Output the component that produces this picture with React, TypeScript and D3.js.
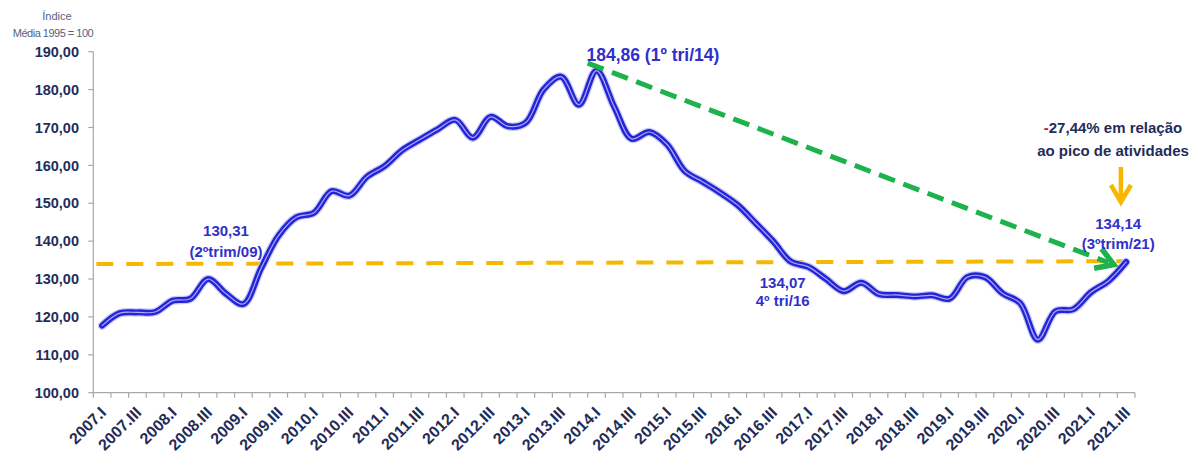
import React from "react";
import * as d3 from "d3";

const years = d3.range(2007, 2022);
const romans = ["I", "II", "III", "IV"];
const quarters: string[] = [];
years.forEach((y) => romans.forEach((r) => quarters.push(`${y}.${r}`)));
const categories = quarters.slice(0, 59); // 2007.I .. 2021.III

const values = [
  117.7, 121.0, 121.2, 121.3, 124.3, 124.8, 130.0, 126.2, 123.4, 132.8,
  141.5, 146.3, 147.5, 153.2, 152.0, 157.0, 159.8, 164.0, 166.8, 169.5,
  172.0, 167.3, 172.8, 170.3, 171.3, 180.0, 183.4, 176.0, 185.0, 175.5,
  167.0, 168.8, 165.5, 158.5, 155.7, 152.8, 149.5, 144.8, 140.0, 134.6,
  133.2, 130.0, 126.8, 129.0, 126.0, 125.8, 125.4, 125.7, 124.8, 130.5,
  130.5, 126.2, 123.6, 114.0, 121.5, 122.0, 126.5, 129.5, 134.5,
];

const yTicks = [100, 110, 120, 130, 140, 150, 160, 170, 180, 190];

const annotations = [
  { idx: 9, lines: ["130,31", "(2ºtrim/09)"], dx: -35, y: [236, 257], size: 15 },
  { idx: 39, lines: ["134,07", "4º tri/16"], dx: -8, y: [288, 306], size: 15 },
  { idx: 58, lines: ["134,14", "(3ºtrim/21)"], dx: -8, y: [229, 249], size: 15 },
];

const W = 1198;
const H = 465;
const left = 93.3;
const right = 1135;
const top = 51.7;
const bottom = 392.7;

export default function App() {
  const x = d3.scaleBand<string>().domain(categories).range([left, right]).padding(0);
  const cx = (i: number) => (x(categories[0]) as number) + x.bandwidth() * (i + 0.5);
  const y = d3.scaleLinear().domain([100, 190]).range([bottom, top]);

  const line = d3
    .line<number>()
    .x((_, i) => cx(i))
    .y((d) => y(d))
    .curve(d3.curveCatmullRom.alpha(0.5));
  const path = line(values) || "";

  const fmt = (v: number) => v.toFixed(2).replace(".", ",");
  const navy = "#1f2d5a";
  const blue = "#3030cc";
  const labelFont = "'Liberation Sans', Arial, sans-serif";

  // green arrow
  const gx1 = cx(27.5), gy1 = y(187);
  const gx2 = cx(57.3), gy2 = y(133.8);
  const ang = Math.atan2(gy2 - gy1, gx2 - gx1);
  const ah = 20;
  const a1x = gx2 - ah * Math.cos(ang - 0.55), a1y = gy2 - ah * Math.sin(ang - 0.55);
  const a2x = gx2 - ah * Math.cos(ang + 0.55), a2y = gy2 - ah * Math.sin(ang + 0.55);

  // orange arrow
  const ox = cx(57.7);

  return (
    <svg width={W} height={H} style={{ position: "absolute", left: 0, top: 0, background: "#fff" }} fontFamily={labelFont}>
      {/* axis titles */}
      <text x={57} y={20} textAnchor="middle" fontSize={11} fill="#56627e">Índice</text>
      <text x={53} y={37} textAnchor="middle" fontSize={11} fill="#56627e" letterSpacing={-0.5}>Média 1995 = 100</text>

      {/* y axis */}
      <line x1={left} x2={left} y1={y(190)} y2={bottom} stroke="#a8a8a8" strokeWidth={1.2} />
      {yTicks.map((t) => (
        <g key={t}>
          <line x1={left - 5} x2={left} y1={y(t)} y2={y(t)} stroke="#a8a8a8" strokeWidth={1.2} />
          <text x={79} y={y(t)} dy="0.36em" textAnchor="end" fontSize={14.5} fontWeight="bold" fill={navy}>
            {fmt(t)}
          </text>
        </g>
      ))}

      {/* x axis */}
      <line x1={left} x2={right} y1={bottom} y2={bottom} stroke="#a8a8a8" strokeWidth={1.2} />
      {d3.range(categories.length + 1).map((i) => {
        const xx = left + x.bandwidth() * i;
        return <line key={i} x1={xx} x2={xx} y1={bottom} y2={bottom + 5} stroke="#a8a8a8" strokeWidth={1.2} />;
      })}
      {categories.map((c, i) =>
        i % 2 === 0 ? (
          <text
            key={c}
            transform={`translate(${cx(i) + 5},${bottom + 21}) rotate(-45)`}
            textAnchor="end"
            fontSize={16}
            fontWeight="bold"
            fill={navy}
          >
            {c}
          </text>
        ) : null
      )}

      {/* orange reference line */}
      <line
        x1={left + 3}
        y1={y(133.95)}
        x2={cx(58)}
        y2={y(134.7)}
        stroke="#f5b800"
        strokeWidth={4}
        strokeDasharray="17 13"
      />

      {/* main series */}
      <path d={path} fill="none" stroke="#c9c9f2" strokeWidth={8.5} strokeLinecap="round" strokeLinejoin="round" />
      <path d={path} fill="none" stroke="#2424d6" strokeWidth={6} strokeLinecap="round" strokeLinejoin="round" />
      <path d={path} fill="none" stroke="#a9a9ff" strokeWidth={1.2} strokeLinecap="round" strokeLinejoin="round" />

      {/* green arrow */}
      <line x1={gx1} y1={gy1} x2={gx2 - 6 * Math.cos(ang)} y2={gy2 - 6 * Math.sin(ang)} stroke="#1db24b" strokeWidth={5} strokeDasharray="17 9" />
      <polyline
        points={`${a1x},${a1y} ${gx2},${gy2} ${a2x},${a2y}`}
        fill="none"
        stroke="#1db24b"
        strokeWidth={5.5}
        strokeLinecap="butt"
        strokeLinejoin="miter"
      />

      {/* orange down arrow */}
      <line x1={ox} x2={ox} y1={167} y2={200} stroke="#f8b600" strokeWidth={4.5} />
      <polyline points={`${ox - 10},${185} ${ox},${202} ${ox + 10},${185}`} fill="none" stroke="#f8b600" strokeWidth={4.5} />

      {/* peak annotation */}
      <text x={cx(28) - 10} y={61} fontSize={17.5} fontWeight="bold" fill={blue}>
        {`${fmt(184.86)} (1º tri/14)`}
      </text>

      {annotations.map((a) => (
        <g key={a.idx}>
          {a.lines.map((l, j) => (
            <text key={j} x={cx(a.idx) + a.dx} y={a.y[j]} textAnchor="middle" fontSize={a.size} fontWeight="bold" fill={blue}>
              {l}
            </text>
          ))}
        </g>
      ))}

      {/* variation note */}
      <text x={1113} y={133} textAnchor="middle" fontSize={15} fontWeight="bold" fill={navy}>
        <tspan fill="#d01010">-</tspan>27,44% em relação
      </text>
      <text x={1113} y={156} textAnchor="middle" fontSize={15} fontWeight="bold" fill={navy}>
        ao pico de atividades
      </text>
    </svg>
  );
}
